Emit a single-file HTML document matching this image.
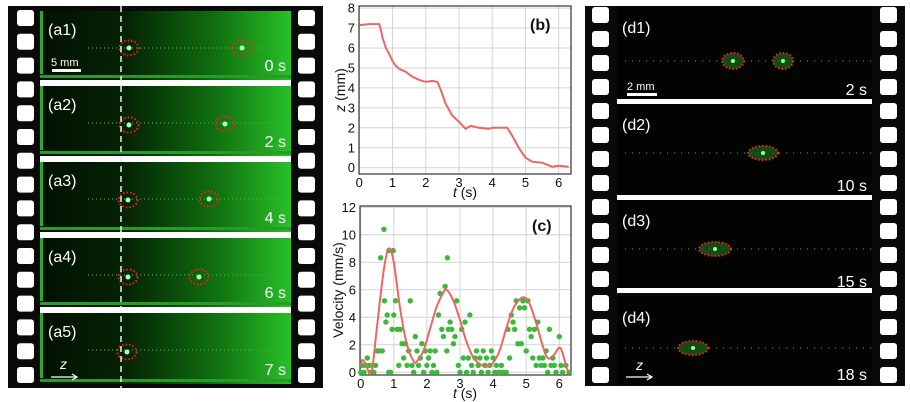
<!DOCTYPE html>
<html><head><meta charset="utf-8">
<style>
html,body{margin:0;padding:0;background:#fff;}
body{width:910px;height:402px;position:relative;overflow:hidden;font-family:"Liberation Sans",sans-serif;}
svg{position:absolute;left:0;top:0;}
</style></head>
<body>
<svg id="fig" width="910" height="402" viewBox="0 0 910 402">
<defs>
<linearGradient id="gfl" x1="0" x2="1" y1="0" y2="0">
<stop offset="0" stop-color="#021002"/><stop offset="0.35" stop-color="#052405"/>
<stop offset="0.7" stop-color="#107010"/><stop offset="1" stop-color="#28c028"/>
</linearGradient>
</defs>
<g id="stripA"></g>
<g id="stripD"></g>
<g id="chartB"></g>
<g id="chartC"></g>
</svg>
<script>
// ---------- chart (b) data ----------
const zTimes = [0,0.3,0.6,0.65,0.7,0.8,0.9,1.0,1.1,1.2,1.4,1.6,1.8,2.0,2.2,2.35,2.45,2.6,2.8,3.0,3.2,3.3,3.35,3.6,3.9,4.0,4.45,4.6,4.8,5.0,5.2,5.5,5.8,6.0,6.3];
const zValues = [7.15,7.2,7.2,6.9,6.5,6.0,5.7,5.35,5.1,4.95,4.8,4.55,4.4,4.3,4.35,4.3,3.9,3.2,2.6,2.3,1.95,2.05,2.1,2.0,1.95,2.0,2.0,1.6,1.0,0.5,0.3,0.25,0.05,0.1,0.05];
const bXTicks = [0,1,2,3,4,5,6];
const bYTicks = [0,1,2,3,4,5,6,7,8];
// ---------- chart (c) data ----------
const fitTimes = [0,0.05,0.15,0.25,0.35,0.5,0.7,0.85,1.0,1.2,1.4,1.6,1.7,1.9,2.1,2.3,2.5,2.6,2.8,3.0,3.2,3.4,3.6,3.8,4.0,4.2,4.4,4.6,4.8,4.95,5.1,5.3,5.5,5.6,5.7,5.85,6.0,6.1,6.2,6.27];
const fitValues = [0.5,0.9,0.6,0,0.3,3.5,7.5,9.0,8.0,4.5,2.0,0.8,0.8,1.6,3.2,4.8,5.8,6.0,5.2,3.8,2.2,1.1,0.6,0.4,0.7,1.6,3.2,4.6,5.3,5.45,5.0,3.6,1.9,1.2,1.0,1.3,1.8,1.4,0.5,0];
const ptTimes = [0,0.05,0.1,0.15,0.2,0.25,0.3,0.35,0.4,0.45,0.5,0.55,0.6,0.65,0.7,0.72,0.76,0.8,0.85,0.85,0.9,0.95,0.98,1.0,1.05,1.1,1.15,1.2,1.25,1.3,1.35,1.4,1.45,1.5,1.55,1.6,1.65,1.7,1.75,1.8,1.85,1.9,1.95,2.0,2.05,2.1,2.15,2.2,2.25,2.3,2.35,2.4,2.45,2.5,2.55,2.6,2.62,2.65,2.7,2.75,2.8,2.85,2.9,2.95,3.0,3.05,3.1,3.15,3.2,3.25,3.3,3.35,3.4,3.45,3.5,3.55,3.6,3.65,3.7,3.75,3.8,3.85,3.9,3.95,4.0,4.05,4.1,4.15,4.2,4.25,4.3,4.4,4.45,4.5,4.55,4.6,4.65,4.7,4.75,4.8,4.85,4.9,4.95,5.0,5.05,5.1,5.15,5.2,5.25,5.3,5.35,5.4,5.45,5.5,5.55,5.6,5.65,5.7,5.75,5.8,5.85,5.9,6.0,6.05,6.1,6.2,6.3];
const ptValues = [0,0.5,0,0.5,1.04,0.5,0,0.5,0,0.5,1.56,1.56,8.33,1.56,10.4,5.2,3.65,4.17,8.85,0,0,3.13,8.85,4.17,5.2,3.13,0.5,3.13,2.08,1.04,2.08,0.5,1.56,5.2,0.5,0,2.6,1.56,0.5,1.04,2.08,0,1.56,0.5,1.04,1.56,0,0.5,1.56,0,4.17,5.73,3.13,2.6,6.25,1.56,8.33,3.13,3.65,3.13,2.08,2.6,5.2,0.5,0,3.13,1.04,3.65,0,1.04,4.17,0.5,0,1.04,1.56,0.5,1.04,0,1.56,0.5,1.04,0,0.5,1.56,1.04,0,0.5,0,0,0.5,0,0,3.13,1.04,4.17,3.65,3.13,5.2,2.08,4.69,2.08,5.2,4.69,1.56,5.2,3.13,2.6,1.04,3.13,0.5,3.65,1.04,0.5,1.04,0.5,1.56,0,3.13,0.5,1.04,0.5,0,2.6,0.5,0,0.5,0];
const cXTicks = [0,1,2,3,4,5,6];
const cYTicks = [0,2,4,6,8,10,12];

const NS='http://www.w3.org/2000/svg';
function mk(parent,tag,attrs,text){const e=document.createElementNS(NS,tag);for(const k in attrs)e.setAttribute(k,attrs[k]);if(text!==undefined)e.textContent=text;parent.appendChild(e);return e;}

// ---------- film strips ----------
function strip(g,x0,x1,y0,y1,holeL,holeR,holeTop,pitch,n,frames,seps,imgX0,imgX1,green){
  const bg=mk(g,'rect',{x:x0,y:y0,width:x1-x0,height:y1-y0,fill:'#0a0a0a'});
  
  
  for(let i=0;i<n;i++){
    const cy=holeTop+pitch*i;
    for(const hx of [holeL,holeR]){
      const h=mk(g,'rect',{x:hx,y:cy-8,width:17,height:16,rx:3,fill:'#fff'});
      
      
    }
  }
  frames.forEach(f=>{
    const r=mk(g,'rect',{x:imgX0,y:f[0],width:imgX1-imgX0,height:f[1]-f[0],fill:green?'url(#gfl)':'#020402'});
    
    
  });
  seps.forEach(s=>{
    const r=mk(g,'rect',{x:imgX0,y:s[0],width:imgX1-imgX0,height:s[1]-s[0],fill:'#fff'});
    
    
  });
}
const gA=document.getElementById('stripA');
const aFrames=[[11,80],[86,156],[162,232],[238,307],[313,384]];
strip(gA,8,323,6,388,17,298,18,23.8,16,aFrames,[[80,86],[156,162],[232,238],[307,313]],40,291,true);
const aLabels=['(a1)','(a2)','(a3)','(a4)','(a5)'];
const aTimes=['0 s','2 s','4 s','6 s','7 s'];
const aBeads=[[[129,48],[242,48]],[[129,125],[225,124]],[[128,200],[209,199]],[[128,277],[199,277]],[[127,352]]];
aFrames.forEach((f,i)=>{
  const l=mk(gA,'rect',{x:40,y:f[0],width:3,height:f[1]-f[0]-6,fill:'#2ea82e'});
  
  
  const b=mk(gA,'rect',{x:40,y:f[1]-5,width:251,height:3,fill:'#2a9a2a'});
  
  
  const s=mk(gA,'line',{x1:88,y1:f[0]+37,x2:291,y2:f[0]+37,stroke:'#3fc03f','stroke-width':1.5,'stroke-dasharray':'1 3',opacity:0.7});
  
  
  const t=mk(gA,'text',{x:48,y:f[0]+24,fill:'#fff','font-size':16},aLabels[i]);
  
  
  const tt=mk(gA,'text',{x:286,y:f[1]-9,fill:'#fff','font-size':16,'text-anchor':'end'},aTimes[i]);
  
  
  aBeads[i].forEach(p=>{
    const d=mk(gA,'circle',{cx:p[0],cy:p[1],r:2.5,fill:'#b0ffb0'});
    
    
    const e=mk(gA,'ellipse',{cx:p[0],cy:p[1],rx:9.5,ry:7.5,fill:'none',stroke:'#ff1a1a','stroke-width':2,'stroke-dasharray':'1.5 2'});
    
    
  });
});
const dl=mk(gA,'line',{x1:121,y1:6,x2:121,y2:388,stroke:'#eee','stroke-width':1.5,'stroke-dasharray':'6 4'});


const sb=mk(gA,'rect',{x:52,y:69,width:29,height:3,fill:'#fff'});


const sbt=mk(gA,'text',{x:51,y:66,fill:'#fff','font-size':11},'5 mm');


const za=mk(gA,'text',{x:60,y:369,fill:'#fff','font-size':14,'font-style':'italic'},'z');


const zar=mk(gA,'path',{d:'M51 377 H76 M72 374 L77 377 L72 380',stroke:'#fff','stroke-width':1.2,fill:'none'});



const gD=document.getElementById('stripD');
const dFrames=[[6,100],[103,196],[199,292],[296,385]];
strip(gD,585,905,6,386,592,880,15,24,16,dFrames,[[99,104],[195,200],[288,293]],617,872,false);
const dLabels=['(d1)','(d2)','(d3)','(d4)'];
const dTimes=['2 s','10 s','15 s','18 s'];
const dBeads=[[[733,61,11,8],[783,61,10,8]],[[763,153,15,7]],[[715,249,16,7]],[[693,348,15,7]]];
dFrames.forEach((f,i)=>{
  const cy=dBeads[i][0][1];
  const s=mk(gD,'line',{x1:625,y1:cy,x2:872,y2:cy,stroke:'#2aa02a','stroke-width':1.5,'stroke-dasharray':'1 6',opacity:0.8});
  
  
  const t=mk(gD,'text',{x:622,y:f[0]+27,fill:'#fff','font-size':16},dLabels[i]);
  
  
  const tt=mk(gD,'text',{x:867,y:f[1]-5,fill:'#fff','font-size':16,'text-anchor':'end'},dTimes[i]);
  
  
  dBeads[i].forEach(p=>{
    const g2=mk(gD,'ellipse',{cx:p[0],cy:p[1],rx:p[2],ry:p[3],fill:'#1c6a1c',opacity:0.7});
    
    
    const d=mk(gD,'circle',{cx:p[0],cy:p[1],r:2,fill:'#9f9'});
    
    
    const e=mk(gD,'ellipse',{cx:p[0],cy:p[1],rx:p[2],ry:p[3],fill:'none',stroke:'#ff1a1a','stroke-width':2,'stroke-dasharray':'1.5 2'});
    
    
  });
});
const sb2=mk(gD,'rect',{x:627,y:93,width:30,height:3,fill:'#fff'});


const sbt2=mk(gD,'text',{x:627,y:90,fill:'#fff','font-size':11},'2 mm');


const zd=mk(gD,'text',{x:636,y:370,fill:'#fff','font-size':14,'font-style':'italic'},'z');


const zdr=mk(gD,'path',{d:'M626 377 H651 M647 374 L652 377 L647 380',stroke:'#fff','stroke-width':1.2,fill:'none'});



// ---------- charts ----------
function axes(g,opt){
  const sx=t=>opt.x0+(t-opt.tmin)*(opt.x6-opt.x0)/6;
  const sy=v=>opt.yb-(v-opt.vmin)*(opt.yb-opt.ytop)/(opt.vmax-opt.vmin);
  opt.xticks.forEach(t=>{
    const l=mk(g,'line',{x1:sx(t),y1:opt.top,x2:sx(t),y2:opt.bot,stroke:'#d4d4d4','stroke-width':1});
    
    
    const tx=mk(g,'text',{x:sx(t),y:opt.bot+13,'font-size':13,'text-anchor':'middle',fill:'#111'},String(t));
    
    
  });
  opt.yticks.forEach(v=>{
    const l=mk(g,'line',{x1:opt.left,y1:sy(v),x2:opt.right,y2:sy(v),stroke:'#d4d4d4','stroke-width':1});
    
    
    const tx=mk(g,'text',{x:opt.left-4,y:sy(v)+4.5,'font-size':13,'text-anchor':'end',fill:'#111'},String(v));
    
    
  });
  const fr=mk(g,'rect',{x:opt.left,y:opt.top,width:opt.right-opt.left,height:opt.bot-opt.top,fill:'none',stroke:'#333','stroke-width':1.2});
  
  
  return [sx,sy];
}
function smoothPath(pts){
  let d='M'+pts[0][0].toFixed(1)+' '+pts[0][1].toFixed(1);
  for(let i=0;i<pts.length-1;i++){
    const p0=pts[i-1]||pts[i],p1=pts[i],p2=pts[i+1],p3=pts[i+2]||p2;
    const c1=[p1[0]+(p2[0]-p0[0])/6,p1[1]+(p2[1]-p0[1])/6];
    const c2=[p2[0]-(p3[0]-p1[0])/6,p2[1]-(p3[1]-p1[1])/6];
    d+='C'+c1[0].toFixed(1)+' '+c1[1].toFixed(1)+' '+c2[0].toFixed(1)+' '+c2[1].toFixed(1)+' '+p2[0].toFixed(1)+' '+p2[1].toFixed(1);
  }
  return d;
}
const gB=document.getElementById('chartB');
const [bx,by]=axes(gB,{x0:359.3,x6:558.7,tmin:0,yb:167.7,ytop:8.1,vmin:0,vmax:8,left:359,right:571,top:6,bot:174,xticks:bXTicks,yticks:bYTicks});
let dB='';zTimes.forEach((t,i)=>{dB+=(i?'L':'M')+bx(t).toFixed(1)+' '+by(zValues[i]).toFixed(1);});
const lb=mk(gB,'path',{d:dB,fill:'none',stroke:'#f06464','stroke-width':2});


const bt=mk(gB,'text',{x:530,y:30,'font-size':16,'font-weight':'bold',fill:'#111'},'(b)');


const bxl=mk(gB,'text',{x:465,y:197,'font-size':14,'text-anchor':'middle',fill:'#111'});
bxl.innerHTML='<tspan font-style="italic">t</tspan> (s)';


const byl=mk(gB,'text',{x:0,y:0,'font-size':14,'text-anchor':'middle',fill:'#111',transform:'translate(345,90) rotate(-90)'});
byl.innerHTML='<tspan font-style="italic">z</tspan> (mm)';



const gC=document.getElementById('chartC');
const [cx,cy]=axes(gC,{x0:360.7,x6:559.3,tmin:0,yb:372.3,ytop:207.3,vmin:0,vmax:12,left:360,right:571,top:206,bot:375,xticks:cXTicks,yticks:cYTicks});
ptTimes.forEach((t,i)=>{
  const c=mk(gC,'circle',{cx:cx(t).toFixed(1),cy:cy(ptValues[i]).toFixed(1),r:2.7,fill:'#3cb83c'});
  
  
});
const fitPts=fitTimes.map((t,i)=>[cx(t),cy(fitValues[i])]);
const lc=mk(gC,'path',{d:smoothPath(fitPts),fill:'none',stroke:'#f06464','stroke-width':2,'stroke-linejoin':'round'});


const ct=mk(gC,'text',{x:532,y:231,'font-size':16,'font-weight':'bold',fill:'#111'},'(c)');


const cxl=mk(gC,'text',{x:465,y:398,'font-size':14,'text-anchor':'middle',fill:'#111'});
cxl.innerHTML='<tspan font-style="italic">t</tspan> (s)';


const cyl=mk(gC,'text',{x:0,y:0,'font-size':14,'text-anchor':'middle',fill:'#111',transform:'translate(343,290) rotate(-90)'},'Velocity (mm/s)');


</script>
</body></html>
